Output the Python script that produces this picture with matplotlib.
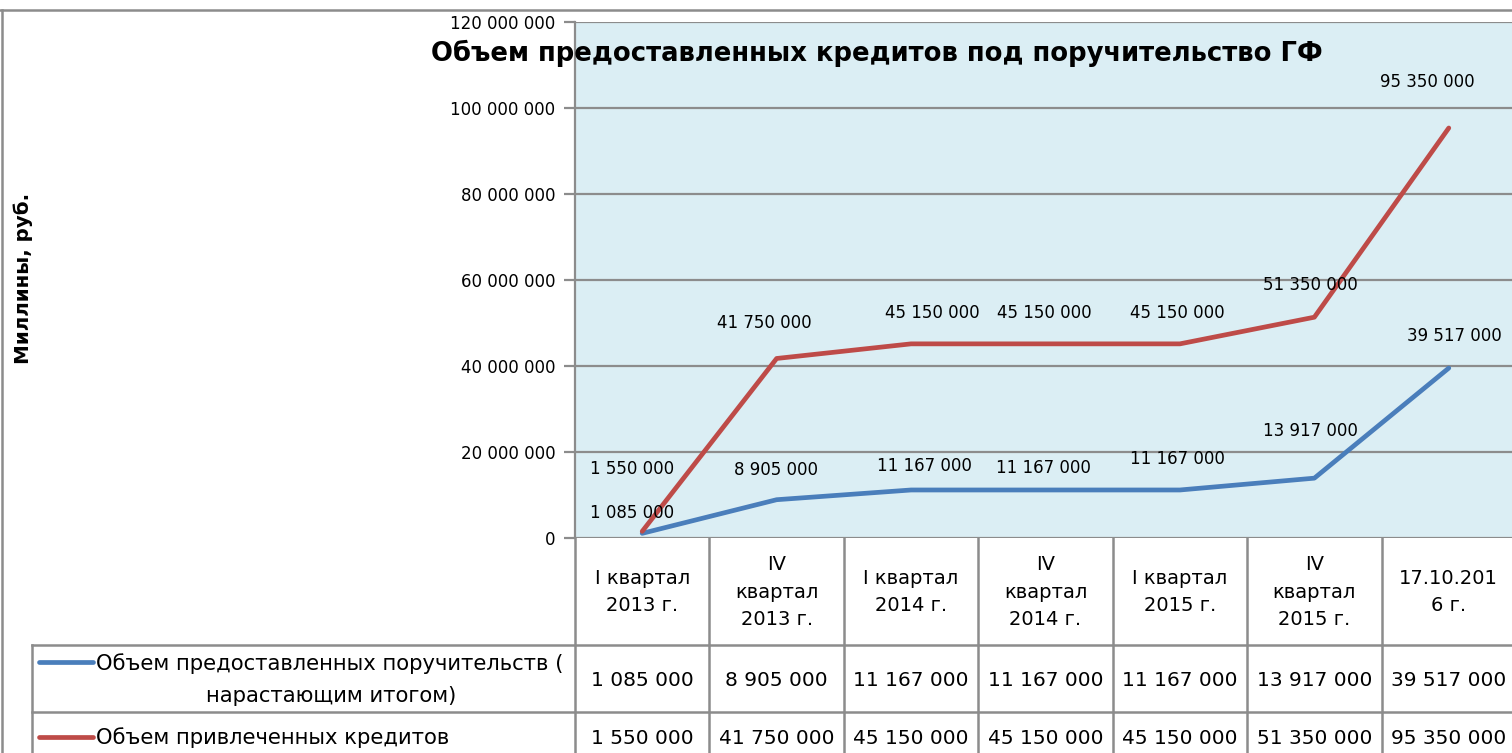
import matplotlib
matplotlib.use("Agg")
import matplotlib.pyplot as plt
import matplotlib.transforms as mtransforms
from matplotlib.lines import Line2D

plt.rcParams['font.family'] = ['DejaVu Sans']

# ---------------- data ----------------
categories = ["I квартал\n2013 г.", "IV\nквартал\n2013 г.", "I квартал\n2014 г.",
              "IV\nквартал\n2014 г.", "I квартал\n2015 г.", "IV\nквартал\n2015 г.",
              "17.10.201\n6 г."]
guarantees = [1085000, 8905000, 11167000, 11167000, 11167000, 13917000, 39517000]
credits = [1550000, 41750000, 45150000, 45150000, 45150000, 51350000, 95350000]
series_names = ["Объем предоставленных поручительств (", "Объем привлеченных кредитов"]
series_name_2nd_line = "нарастающим итогом)"
title = "Объем предоставленных кредитов под поручительство ГФ"
ylabel = "Миллины, руб."
yticks = [0, 20000000, 40000000, 60000000, 80000000, 100000000, 120000000]

# label offsets in pixels (layout only)
red_off = [(-10, 62), (-12, 35), (21, 31), (-1, 31), (-3, 31), (-4, 32), (-21, 46)]
blue_off = [(-10, 20), (-1, 30), (13, 24), (-2, 22), (-2, 31), (-4, 47), (6, 32)]

BLUE = "#4A7EBB"
RED = "#BE4B48"
GRID = "#8C8C8C"
BG = "#DBEEF4"

W, H = 1512, 753
fig = plt.figure(figsize=(W / 100, H / 100), dpi=100)
fig.patch.set_facecolor("white")


def fx(px):
    return px / W


def fy(py):
    return 1 - py / H


def fmt(v):
    return f"{v:,}".replace(",", " ")


ax = fig.add_axes([fx(575), fy(538), fx(1516) - fx(575), fy(22) - fy(538)])
ax.set_facecolor(BG)
n = len(categories)
ax.set_xlim(-0.5, n - 0.5)
ax.set_ylim(0, 120000000)
ax.set_yticks(yticks)
ax.set_yticklabels([fmt(v) for v in yticks], fontsize=12)
ax.set_xticks([])
ax.grid(axis="y", color=GRID, linewidth=1.6)
ax.set_axisbelow(True)
for s in ["top", "right", "bottom"]:
    ax.spines[s].set_visible(False)
ax.spines["left"].set_color(GRID)
ax.spines["left"].set_linewidth(1.6)
ax.tick_params(axis="y", length=8, width=1.6, color=GRID, pad=6)

x = list(range(n))
ax.plot(x, guarantees, color=BLUE, linewidth=3.4, solid_capstyle="round", zorder=3)
ax.plot(x, credits, color=RED, linewidth=3.4, solid_capstyle="round", zorder=3)

for i in range(n):
    ax.annotate(fmt(credits[i]), (x[i], credits[i]), xytext=red_off[i],
                textcoords="offset pixels", ha="center", va="center", fontsize=12)
    ax.annotate(fmt(guarantees[i]), (x[i], guarantees[i]), xytext=blue_off[i],
                textcoords="offset pixels", ha="center", va="center", fontsize=12)

# title & y label
fig.text(fx(877), fy(53), title, ha="center", va="center", fontsize=18.6,
         fontweight="bold", zorder=10)
fig.text(fx(23), fy(278), ylabel, ha="center", va="center", rotation=90,
         fontsize=14.3, fontweight="bold")

# ---------------- data table ----------------
bt = mtransforms.blended_transform_factory(ax.transData, fig.transFigure)
line_kw = dict(color=GRID, linewidth=1.8, clip_on=False)
# vertical lines of the value columns
for i in range(n + 1):
    fig.add_artist(Line2D([i - 0.5, i - 0.5], [fy(538), fy(780)], transform=bt, **line_kw))
# horizontal lines
fig.add_artist(Line2D([fx(32), fx(1516)], [fy(645), fy(645)], **line_kw))
fig.add_artist(Line2D([fx(32), fx(1516)], [fy(712), fy(712)], **line_kw))
fig.add_artist(Line2D([fx(32), fx(32)], [fy(645), fy(780)], **line_kw))

for i in range(n):
    fig.text(x[i], fy(592), categories[i], transform=bt, ha="center", va="center",
             fontsize=14, linespacing=1.55)
    fig.text(x[i], fy(680), fmt(guarantees[i]), transform=bt, ha="center",
             va="center", fontsize=14.5)
    fig.text(x[i], fy(738), fmt(credits[i]), transform=bt, ha="center",
             va="center", fontsize=14.5)

# legend keys in the table
fig.add_artist(Line2D([fx(39), fx(93)], [fy(662), fy(662)], color=BLUE, linewidth=3.4,
                      solid_capstyle="round"))
fig.add_artist(Line2D([fx(39), fx(93)], [fy(737), fy(737)], color=RED, linewidth=3.4,
                      solid_capstyle="round"))
fig.text(fx(96), fy(664), series_names[0], ha="left", va="center", fontsize=15.2)
fig.text(fx(331), fy(696), series_name_2nd_line, ha="center", va="center", fontsize=15.2)
fig.text(fx(96), fy(738), series_names[1], ha="left", va="center", fontsize=15.2)

# chart area border
fig.add_artist(Line2D([fx(2), fx(2)], [fy(10), fy(800)], **line_kw))
fig.add_artist(Line2D([fx(0), fx(1600)], [fy(10), fy(10)], **line_kw))

fig.savefig("out.png", dpi=100, facecolor="white")
